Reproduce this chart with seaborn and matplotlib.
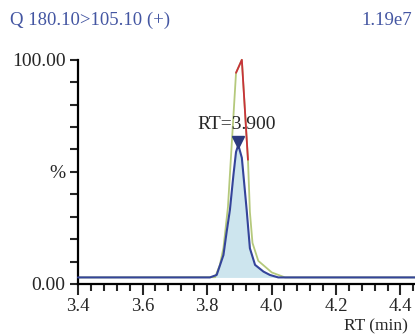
import numpy as np
import pandas as pd
import matplotlib
matplotlib.use('Agg')
import matplotlib.pyplot as plt
import seaborn as sns
from matplotlib.ticker import MultipleLocator

# 数据
blue_rt = [3.40, 3.809, 3.830, 3.851, 3.861, 3.871, 3.882, 3.890, 3.897, 3.908,
           3.923, 3.933, 3.949, 3.975, 3.995, 4.021, 4.45]
blue_pct = [2.9, 2.9, 4.0, 12.9, 23.3, 33.0, 48.7, 58.9, 62.0, 56.3,
            33.0, 15.9, 8.5, 5.5, 4.0, 2.9, 2.9]

green_rt = [3.40, 3.825, 3.840, 3.851, 3.865, 3.890, 3.908, 3.927, 3.933, 3.941,
            3.959, 4.001, 4.042, 4.45]
green_pct = [2.9, 3.0, 8.5, 16.1, 34.4, 94.2, 100.0, 55.4, 32.1, 18.3,
             10.3, 5.1, 2.9, 2.9]
red_idx = [5, 6, 7]

baseline = 2.9
peak_rt = 3.897
peak_pct = 62.0
peak_label = 'RT=3.900'
title_left = 'Q 180.10>105.10 (+)'
title_right = '1.19e7'
ytick_vals = [0, 50, 100]
ytick_labels = ['0.00', '%', '100.00']

df_blue = pd.DataFrame({'RT': blue_rt, 'pct': blue_pct})
df_green = pd.DataFrame({'RT': green_rt, 'pct': green_pct})
df_red = df_green.iloc[red_idx]

sns.set_style('ticks')
plt.rcParams['font.family'] = ['Liberation Serif', 'DejaVu Serif']
plt.rcParams['font.size'] = 13

fig = plt.figure(figsize=(4.15, 3.36), dpi=100)
ax = fig.add_axes([0.188, 0.155, 0.812, 0.667])

ax.fill_between(df_blue['RT'], df_blue['pct'], baseline, color='#cde5ee', lw=0, zorder=1)
sns.lineplot(data=df_green, x='RT', y='pct', sort=False, color='#b5c97c', lw=1.3, ax=ax, zorder=2)
sns.lineplot(data=df_red, x='RT', y='pct', sort=False, color='#c8323a', lw=1.3, ax=ax, zorder=3)
sns.lineplot(data=df_blue, x='RT', y='pct', sort=False, color='#34449a', lw=1.5, ax=ax, zorder=4)
for ln in ax.lines:
    ln.set_clip_on(False)

ax.plot([peak_rt], [peak_pct + 1.5], marker='v', color='#2c3a7e', ms=8, zorder=5, clip_on=False)
ax.text(peak_rt - 0.005, peak_pct + 9, peak_label, ha='center', va='center', fontsize=14)

ax.set_xlim(3.4, 4.445)
ax.set_ylim(0, 100)
ax.xaxis.set_major_locator(MultipleLocator(0.2))
ax.xaxis.set_minor_locator(MultipleLocator(0.04))
ax.set_yticks(ytick_vals)
ax.set_yticklabels(ytick_labels)
ax.yaxis.set_minor_locator(MultipleLocator(10))
ax.xaxis.set_major_formatter(matplotlib.ticker.FormatStrFormatter('%.1f'))

ax.tick_params(axis='x', which='major', length=8, width=1.5, direction='out', labelsize=13.5, pad=2)
ax.tick_params(axis='x', which='minor', length=5, width=1.5, direction='out')
ax.tick_params(axis='y', which='both', length=6, width=1.5, direction='out', labelsize=14, pad=3)

sns.despine(ax=ax, top=True, right=True)
ax.spines['left'].set_linewidth(1.6)
ax.spines['bottom'].set_linewidth(1.6)
ax.spines['left'].set_color('black')
ax.spines['bottom'].set_color('black')

ax.set_xlabel('')
ax.set_ylabel('')
fig.text(0.984, 0.03, 'RT (min)', ha='right', va='center', fontsize=12.5)

fig.text(0.024, 0.94, title_left, ha='left', va='center', fontsize=13.5, color='#4456a2')
fig.text(0.992, 0.94, title_right, ha='right', va='center', fontsize=13.5, color='#4456a2')

fig.savefig('out.png', dpi=100)
